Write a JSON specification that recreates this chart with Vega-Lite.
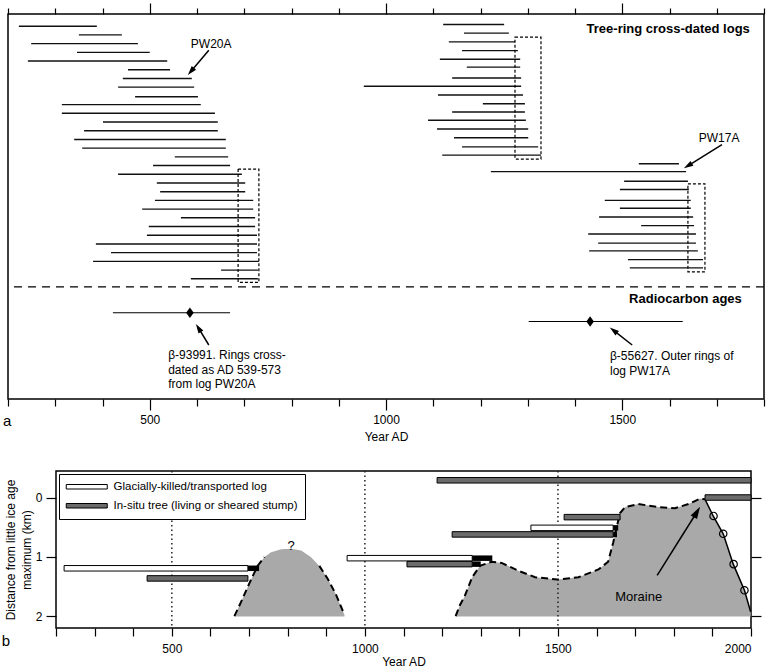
{
  "$schema": "https://vega.github.io/schema/vega-lite/v6.json",
  "background": "white",
  "padding": {"left": 0, "top": 1, "right": 0, "bottom": 0},
  "bounds": "flush",
  "spacing": 72,
  "resolve": {"legend": {"fill": "independent"}, "scale": {"fill": "independent"}},
  "config": {
    "font": "Liberation Sans",
    "view": {"stroke": "black", "strokeWidth": 1.5},
    "axis": {"domain": false, "grid": false, "tickColor": "black", "tickWidth": 1.2, "labelColor": "black", "labelFont": "Liberation Sans", "labelFontSize": 12, "titleColor": "black", "titleFont": "Liberation Sans", "titleFontSize": 12, "titleFontWeight": "normal"},
    "legend": {"labelFont": "Liberation Sans", "labelFontSize": 11.5, "labelColor": "black", "labelLimit": 400},
    "text": {"font": "Liberation Sans", "color": "black"}
  },
  "datasets": {
    "logs": [
      {"row": 0, "start": 223, "end": 388}, {"row": 1, "start": 350, "end": 441}, {"row": 2, "start": 249, "end": 475},
      {"row": 3, "start": 346, "end": 500}, {"row": 4, "start": 242, "end": 537}, {"row": 5, "start": 454, "end": 543},
      {"row": 6, "start": 443, "end": 589}, {"row": 7, "start": 433, "end": 594}, {"row": 8.1, "start": 469, "end": 602},
      {"row": 9, "start": 314, "end": 608}, {"row": 10, "start": 314, "end": 638}, {"row": 11, "start": 401, "end": 644},
      {"row": 12, "start": 361, "end": 644}, {"row": 13, "start": 340, "end": 661}, {"row": 14, "start": 357, "end": 661},
      {"row": 15, "start": 553, "end": 666}, {"row": 16, "start": 507, "end": 670}, {"row": 17, "start": 433, "end": 695},
      {"row": 18, "start": 515, "end": 702}, {"row": 19, "start": 522, "end": 702}, {"row": 20, "start": 511, "end": 719},
      {"row": 21, "start": 484, "end": 719}, {"row": 22, "start": 566, "end": 723}, {"row": 23, "start": 498, "end": 723},
      {"row": 24, "start": 494, "end": 727}, {"row": 25, "start": 386, "end": 727}, {"row": 26, "start": 418, "end": 727},
      {"row": 27, "start": 380, "end": 731}, {"row": 28, "start": 651, "end": 729}, {"row": 29, "start": 587, "end": 729},
      {"row": -0.2, "start": 1121, "end": 1250}, {"row": 0.8, "start": 1165, "end": 1260}, {"row": 1.8, "start": 1133, "end": 1273},
      {"row": 2.8, "start": 1161, "end": 1279}, {"row": 3.8, "start": 1114, "end": 1284}, {"row": 4.7, "start": 1171, "end": 1284},
      {"row": 5.95, "start": 1140, "end": 1286}, {"row": 6.9, "start": 953, "end": 1286}, {"row": 7.9, "start": 1110, "end": 1290},
      {"row": 8.9, "start": 1205, "end": 1294}, {"row": 9.85, "start": 1140, "end": 1294}, {"row": 10.8, "start": 1089, "end": 1296},
      {"row": 11.8, "start": 1108, "end": 1301}, {"row": 12.8, "start": 1144, "end": 1301}, {"row": 13.85, "start": 1161, "end": 1322},
      {"row": 14.8, "start": 1119, "end": 1328},
      {"row": 15.8, "start": 1535, "end": 1620}, {"row": 16.7, "start": 1222, "end": 1635}, {"row": 17.8, "start": 1504, "end": 1639},
      {"row": 18.75, "start": 1495, "end": 1641}, {"row": 20.0, "start": 1463, "end": 1645}, {"row": 20.9, "start": 1495, "end": 1645},
      {"row": 21.9, "start": 1451, "end": 1650}, {"row": 22.9, "start": 1540, "end": 1652}, {"row": 23.85, "start": 1428, "end": 1656},
      {"row": 24.9, "start": 1449, "end": 1656}, {"row": 25.8, "start": 1430, "end": 1660}, {"row": 26.8, "start": 1512, "end": 1671},
      {"row": 27.75, "start": 1516, "end": 1671}
    ],
    "boxes": [
      {"x1": 687, "x2": 731, "r1": 16.4, "r2": 29.4},
      {"x1": 1273, "x2": 1328, "r1": 1.26, "r2": 15.25},
      {"x1": 1639, "x2": 1675, "r1": 18.1, "r2": 28.2}
    ],
    "c14": [
      {"lab": "β-93991", "lo": 422, "hi": 670, "mid": 585, "row": 32.9},
      {"lab": "β-55627", "lo": 1302, "hi": 1628, "mid": 1432, "row": 33.9}
    ],
    "arrows": [
      {"id": "pw20a", "x": 625, "y": 2.75, "hx": 587, "hy": 5.2},
      {"id": "pw17a", "x": 1711, "y": 13.6, "hx": 1639, "hy": 16.03},
      {"id": "b1", "x": 625, "y": 36.6, "hx": 603, "hy": 34.64},
      {"id": "b2", "x": 1521, "y": 36.6, "hx": 1481.5, "hy": 34.92}
    ],
    "headings": [
      {"t": "Tree-ring cross-dated logs", "x": 1770, "row": 0.35},
      {"t": "Radiocarbon ages", "x": 1753, "row": 31.34}
    ],
    "clabels": [
      {"t": "PW20A", "x": 630, "row": 2.03},
      {"t": "PW17A", "x": 1705, "row": 12.84}
    ],
    "llabels": [
      {"t": "β-93991. Rings cross-", "x": 539, "row": 37.73},
      {"t": "dated as AD 539-573", "x": 539, "row": 39.45},
      {"t": "from log PW20A", "x": 539, "row": 41.06},
      {"t": "β-55627. Outer rings of", "x": 1474, "row": 37.84},
      {"t": "log PW17A", "x": 1474, "row": 39.6}
    ],
    "bars": [
      {"type": "In-situ tree (living or sheared stump)", "s": 1187, "e": 2000, "km": -0.29},
      {"type": "In-situ tree (living or sheared stump)", "s": 1881, "e": 2000, "km": 0.0},
      {"type": "In-situ tree (living or sheared stump)", "s": 1516, "e": 1661, "km": 0.33},
      {"type": "Glacially-killed/transported log", "s": 1430, "e": 1643, "km": 0.51},
      {"type": "In-situ tree (living or sheared stump)", "s": 1226, "e": 1643, "km": 0.62},
      {"type": "Glacially-killed/transported log", "s": 954, "e": 1278, "km": 1.02},
      {"type": "In-situ tree (living or sheared stump)", "s": 1109, "e": 1278, "km": 1.12},
      {"type": "Glacially-killed/transported log", "s": 221, "e": 697, "km": 1.19},
      {"type": "In-situ tree (living or sheared stump)", "s": 436, "e": 697, "km": 1.36}
    ],
    "ends": [
      {"s": 697, "e": 726, "km": 1.19},
      {"s": 1278, "e": 1330, "km": 1.02},
      {"s": 1278, "e": 1300, "km": 1.12},
      {"s": 1643, "e": 1656, "km": 0.51},
      {"s": 1643, "e": 1653, "km": 0.62}
    ],
    "moraine": [
      {"hill": "h1", "yr": 662, "km": 1.995}, {"hill": "h1", "yr": 679, "km": 1.76}, {"hill": "h1", "yr": 701, "km": 1.44},
      {"hill": "h1", "yr": 722, "km": 1.15}, {"hill": "h1", "yr": 740, "km": 1.0}, {"hill": "h1", "yr": 757, "km": 0.92},
      {"hill": "h1", "yr": 783, "km": 0.87}, {"hill": "h1", "yr": 809, "km": 0.86}, {"hill": "h1", "yr": 835, "km": 0.89},
      {"hill": "h1", "yr": 860, "km": 1.0}, {"hill": "h1", "yr": 882, "km": 1.15}, {"hill": "h1", "yr": 904, "km": 1.37},
      {"hill": "h1", "yr": 925, "km": 1.63}, {"hill": "h1", "yr": 947, "km": 1.97},
      {"hill": "h2", "yr": 1235, "km": 1.995}, {"hill": "h2", "yr": 1246, "km": 1.81}, {"hill": "h2", "yr": 1259, "km": 1.65},
      {"hill": "h2", "yr": 1278, "km": 1.34}, {"hill": "h2", "yr": 1298, "km": 1.15}, {"hill": "h2", "yr": 1328, "km": 1.08},
      {"hill": "h2", "yr": 1354, "km": 1.1}, {"hill": "h2", "yr": 1397, "km": 1.23}, {"hill": "h2", "yr": 1441, "km": 1.34},
      {"hill": "h2", "yr": 1498, "km": 1.38}, {"hill": "h2", "yr": 1553, "km": 1.34}, {"hill": "h2", "yr": 1605, "km": 1.21},
      {"hill": "h2", "yr": 1630, "km": 1.08}, {"hill": "h2", "yr": 1643, "km": 0.76}, {"hill": "h2", "yr": 1652, "km": 0.5},
      {"hill": "h2", "yr": 1661, "km": 0.26}, {"hill": "h2", "yr": 1674, "km": 0.16}, {"hill": "h2", "yr": 1708, "km": 0.11},
      {"hill": "h2", "yr": 1760, "km": 0.16}, {"hill": "h2", "yr": 1803, "km": 0.18}, {"hill": "h2", "yr": 1838, "km": 0.11},
      {"hill": "h2", "yr": 1868, "km": 0.02}, {"hill": "h2", "yr": 1881, "km": 0.03}, {"hill": "h2", "yr": 1902, "km": 0.31},
      {"hill": "h2", "yr": 1928, "km": 0.61}, {"hill": "h2", "yr": 1954, "km": 1.12}, {"hill": "h2", "yr": 1983, "km": 1.56},
      {"hill": "h2", "yr": 1999, "km": 1.92}
    ],
    "circles": [
      {"yr": 1903, "km": 0.31}, {"yr": 1928, "km": 0.61}, {"yr": 1955, "km": 1.12}, {"yr": 1983, "km": 1.56}
    ],
    "vlines": [{"yr": 500}, {"yr": 1000}, {"yr": 1500}],
    "marrow": [{"x": 1757, "y": 1.31, "hx": 1860, "hy": 0.243}],
    "bnotes": [
      {"t": "?", "x": 809, "km": 0.82},
      {"t": "Moraine", "x": 1709, "km": 1.67}
    ]
  },
  "vconcat": [
    {
      "width": 756,
      "height": 385,
      "resolve": {"axis": {"x": "independent"}},
      "layer": [
        {
          "data": {"name": "logs"},
          "mark": {"type": "rule", "strokeWidth": 1.4, "color": "#111"},
          "encoding": {
            "x": {"field": "start", "type": "quantitative", "scale": {"domain": [200, 1800], "nice": false, "zero": false},
              "axis": {"orient": "bottom", "values": [200,300,400,500,600,700,800,900,1000,1100,1200,1300,1400,1500,1600,1700,1800],
                "format": "d", "labelExpr": "datum.value % 500 === 0 ? datum.label : ''",
                "tickSize": {"condition": {"test": "datum.value % 500 === 0", "value": 11}, "value": 7},
                "labelPadding": 4, "title": "Year AD", "titlePadding": 6}},
            "x2": {"field": "end"},
            "y": {"field": "row", "type": "quantitative", "scale": {"domain": [-1.4, 42.8], "reverse": true, "nice": false, "zero": false}, "axis": null}
          }
        },
        {
          "data": {"name": "boxes"},
          "mark": {"type": "rect", "fillOpacity": 0, "stroke": "black", "strokeWidth": 1.2, "strokeDash": [3, 2]},
          "encoding": {
            "x": {"field": "x1", "type": "quantitative",
              "axis": {"orient": "top", "values": [200,300,400,500,600,700,800,900,1000,1100,1200,1300,1400,1500,1600,1700,1800],
                "labels": false, "title": null,
                "tickSize": {"condition": {"test": "datum.value % 500 === 0", "value": 11}, "value": 6}}},
            "x2": {"field": "x2"},
            "y": {"field": "r1", "type": "quantitative", "axis": null},
            "y2": {"field": "r2"}
          }
        },
        {
          "data": {"values": [{}]},
          "mark": {"type": "rule", "strokeWidth": 1.2, "strokeDash": [8, 6], "color": "black"},
          "encoding": {"y": {"datum": 29.93, "type": "quantitative", "axis": null}}
        },
        {
          "data": {"name": "c14"},
          "mark": {"type": "rule", "strokeWidth": 1.2, "color": "black"},
          "encoding": {
            "x": {"field": "lo", "type": "quantitative", "axis": null},
            "x2": {"field": "hi"},
            "y": {"field": "row", "type": "quantitative", "axis": null}
          }
        },
        {
          "data": {"name": "c14"},
          "mark": {"type": "point", "shape": "M0,-1L0.72,0L0,1L-0.72,0Z", "filled": true, "color": "black", "size": 110, "opacity": 1},
          "encoding": {
            "x": {"field": "mid", "type": "quantitative", "axis": null},
            "y": {"field": "row", "type": "quantitative", "axis": null}
          }
        },
        {
          "data": {"name": "arrows"},
          "mark": {"type": "rule", "strokeWidth": 1.5, "color": "black"},
          "encoding": {
            "x": {"field": "x", "type": "quantitative", "axis": null},
            "y": {"field": "y", "type": "quantitative", "axis": null},
            "x2": {"field": "hx"},
            "y2": {"field": "hy"}
          }
        },
        {
          "data": {"name": "arrows"},
          "transform": [{"filter": {"field": "id", "equal": "pw20a"}}],
          "mark": {"type": "point", "shape": "M0,-1L0.6,1L-0.6,1Z", "filled": true, "color": "black", "size": 90, "angle": 220, "opacity": 1},
          "encoding": {"x": {"field": "hx", "type": "quantitative", "axis": null}, "y": {"field": "hy", "type": "quantitative", "axis": null}}
        },
        {
          "data": {"name": "arrows"},
          "transform": [{"filter": {"field": "id", "equal": "pw17a"}}],
          "mark": {"type": "point", "shape": "M0,-1L0.6,1L-0.6,1Z", "filled": true, "color": "black", "size": 90, "angle": 239, "opacity": 1},
          "encoding": {"x": {"field": "hx", "type": "quantitative", "axis": null}, "y": {"field": "hy", "type": "quantitative", "axis": null}}
        },
        {
          "data": {"name": "arrows"},
          "transform": [{"filter": {"field": "id", "equal": "b1"}}],
          "mark": {"type": "point", "shape": "M0,-1L0.6,1L-0.6,1Z", "filled": true, "color": "black", "size": 90, "angle": 328, "opacity": 1},
          "encoding": {"x": {"field": "hx", "type": "quantitative", "axis": null}, "y": {"field": "hy", "type": "quantitative", "axis": null}}
        },
        {
          "data": {"name": "arrows"},
          "transform": [{"filter": {"field": "id", "equal": "b2"}}],
          "mark": {"type": "point", "shape": "M0,-1L0.6,1L-0.6,1Z", "filled": true, "color": "black", "size": 90, "angle": 308, "opacity": 1},
          "encoding": {"x": {"field": "hx", "type": "quantitative", "axis": null}, "y": {"field": "hy", "type": "quantitative", "axis": null}}
        },
        {
          "data": {"name": "headings"},
          "mark": {"type": "text", "align": "right", "baseline": "middle", "fontWeight": "bold", "fontSize": 13, "color": "black"},
          "encoding": {
            "x": {"field": "x", "type": "quantitative", "axis": null},
            "y": {"field": "row", "type": "quantitative", "axis": null},
            "text": {"field": "t"}
          }
        },
        {
          "data": {"name": "clabels"},
          "mark": {"type": "text", "align": "center", "baseline": "middle", "fontSize": 12, "color": "black"},
          "encoding": {
            "x": {"field": "x", "type": "quantitative", "axis": null},
            "y": {"field": "row", "type": "quantitative", "axis": null},
            "text": {"field": "t"}
          }
        },
        {
          "data": {"name": "llabels"},
          "mark": {"type": "text", "align": "left", "baseline": "middle", "fontSize": 12, "color": "black"},
          "encoding": {
            "x": {"field": "x", "type": "quantitative", "axis": null},
            "y": {"field": "row", "type": "quantitative", "axis": null},
            "text": {"field": "t"}
          }
        },
        {
          "data": {"values": [{"t": "a", "x": 198, "row": 45.3}]},
          "mark": {"type": "text", "align": "center", "baseline": "middle", "fontSize": 15, "color": "black"},
          "encoding": {
            "x": {"field": "x", "type": "quantitative", "axis": null},
            "y": {"field": "row", "type": "quantitative", "axis": null},
            "text": {"field": "t"}
          }
        }
      ]
    },
    {
      "bounds": "flush",
      "spacing": 8,
      "resolve": {"legend": {"fill": "independent"}, "scale": {"fill": "independent"}},
      "hconcat": [
        {
          "width": 40,
          "height": 157,
          "view": {"stroke": null},
          "data": {"values": []},
          "mark": "point"
        },
        {
          "width": 695,
          "height": 157,
          "resolve": {"axis": {"x": "independent", "y": "independent"}},
          "layer": [
            {
              "data": {"name": "moraine"},
              "mark": {"type": "area", "color": "#a9a9a9", "opacity": 1},
              "encoding": {
                "x": {"field": "yr", "type": "quantitative", "scale": {"domain": [200, 2000], "nice": false, "zero": false}, "axis": null},
                "y": {"field": "km", "type": "quantitative", "scale": {"domain": [-0.362, 2.11], "reverse": true, "nice": false, "zero": false}, "axis": null},
                "y2": {"datum": 2},
                "detail": {"field": "hill"}
              }
            },
            {
              "data": {"name": "moraine"},
              "transform": [{"filter": "datum.hill === 'h1' && datum.yr <= 740"}],
              "mark": {"type": "line", "color": "black", "strokeWidth": 2, "strokeDash": [7, 4]},
              "encoding": {
                "x": {"field": "yr", "type": "quantitative", "axis": null},
                "y": {"field": "km", "type": "quantitative", "axis": null}
              }
            },
            {
              "data": {"name": "moraine"},
              "transform": [{"filter": "datum.hill === 'h1' && datum.yr >= 882"}],
              "mark": {"type": "line", "color": "black", "strokeWidth": 2, "strokeDash": [7, 4]},
              "encoding": {
                "x": {"field": "yr", "type": "quantitative", "axis": null},
                "y": {"field": "km", "type": "quantitative", "axis": null}
              }
            },
            {
              "data": {"name": "moraine"},
              "transform": [{"filter": "datum.hill === 'h2' && datum.yr <= 1881"}],
              "mark": {"type": "line", "color": "black", "strokeWidth": 2, "strokeDash": [7, 4]},
              "encoding": {
                "x": {"field": "yr", "type": "quantitative", "axis": null},
                "y": {"field": "km", "type": "quantitative", "axis": null}
              }
            },
            {
              "data": {"name": "moraine"},
              "transform": [{"filter": "datum.hill === 'h2' && datum.yr >= 1881"}],
              "mark": {"type": "line", "color": "black", "strokeWidth": 1.5},
              "encoding": {
                "x": {"field": "yr", "type": "quantitative", "axis": null},
                "y": {"field": "km", "type": "quantitative", "axis": null}
              }
            },
            {
              "data": {"name": "vlines"},
              "mark": {"type": "rule", "color": "#222", "strokeWidth": 1.5, "strokeDash": [1.5, 3]},
              "encoding": {"x": {"field": "yr", "type": "quantitative", "axis": null}}
            },
            {
              "data": {"name": "bars"},
              "mark": {"type": "bar", "size": 5.5, "stroke": "black", "strokeWidth": 1},
              "encoding": {
                "x": {"field": "s", "type": "quantitative",
                  "axis": {"orient": "bottom", "values": [200,300,400,500,600,700,800,900,1000,1100,1200,1300,1400,1500,1600,1700,1800,1900,2000],
                    "format": "d", "labelExpr": "datum.value % 500 === 0 ? datum.label : ''", "tickSize": 8, "labelPadding": 7,
                    "title": "Year AD", "titlePadding": 2}},
                "x2": {"field": "e"},
                "y": {"field": "km", "type": "quantitative",
                  "axis": {"orient": "left", "values": [0, 1, 2], "tickSize": 10, "labelPadding": 4,
                    "title": ["Distance from little ice age", "maximum (km)"], "titlePadding": 2, "titleLineHeight": 16}},
                "fill": {"field": "type", "type": "nominal",
                  "scale": {"domain": ["Glacially-killed/transported log", "In-situ tree (living or sheared stump)"], "range": ["white", "#6b6b6b"]},
                  "legend": {"title": null, "orient": "top-left", "offset": 3, "fillColor": "white", "strokeColor": "black", "padding": 7,
                    "symbolType": "M-4.1,-0.45H4.1V0.45H-4.1Z", "symbolSize": 100, "symbolOffset": 15, "labelOffset": 21,
                    "symbolStrokeColor": "black", "symbolStrokeWidth": 1, "rowPadding": 6, "labelFontSize": 11.5, "labelLimit": 400}}
              }
            },
            {
              "data": {"name": "ends"},
              "mark": {"type": "bar", "size": 5.5, "color": "black"},
              "encoding": {
                "x": {"field": "s", "type": "quantitative", "axis": null},
                "x2": {"field": "e"},
                "y": {"field": "km", "type": "quantitative",
                  "axis": {"orient": "right", "values": [0, 1, 2], "tickSize": 10, "labels": false, "title": null}}
              }
            },
            {
              "data": {"name": "circles"},
              "mark": {"type": "point", "shape": "circle", "filled": false, "color": "black", "strokeWidth": 1.2, "size": 55, "opacity": 1},
              "encoding": {
                "x": {"field": "yr", "type": "quantitative", "axis": null},
                "y": {"field": "km", "type": "quantitative", "axis": null}
              }
            },
            {
              "data": {"name": "marrow"},
              "mark": {"type": "rule", "strokeWidth": 1.5, "color": "black"},
              "encoding": {
                "x": {"field": "x", "type": "quantitative", "axis": null},
                "y": {"field": "y", "type": "quantitative", "axis": null},
                "x2": {"field": "hx"},
                "y2": {"field": "hy"}
              }
            },
            {
              "data": {"name": "marrow"},
              "mark": {"type": "point", "shape": "M0,-1L0.6,1L-0.6,1Z", "filled": true, "color": "black", "size": 150, "angle": 30.5, "opacity": 1},
              "encoding": {
                "x": {"field": "hx", "type": "quantitative", "axis": null},
                "y": {"field": "hy", "type": "quantitative", "axis": null}
              }
            },
            {
              "data": {"name": "bnotes"},
              "mark": {"type": "text", "align": "center", "baseline": "middle", "fontSize": 13, "color": "black"},
              "encoding": {
                "x": {"field": "x", "type": "quantitative", "axis": null},
                "y": {"field": "km", "type": "quantitative", "axis": null},
                "text": {"field": "t"}
              }
            },
            {
              "data": {"values": [{"t": "b", "x": 70, "km": 2.41}]},
              "mark": {"type": "text", "align": "center", "baseline": "middle", "fontSize": 15, "color": "black"},
              "encoding": {
                "x": {"field": "x", "type": "quantitative", "axis": null},
                "y": {"field": "km", "type": "quantitative", "axis": null},
                "text": {"field": "t"}
              }
            }
          ]
        }
      ]
    }
  ]
}
